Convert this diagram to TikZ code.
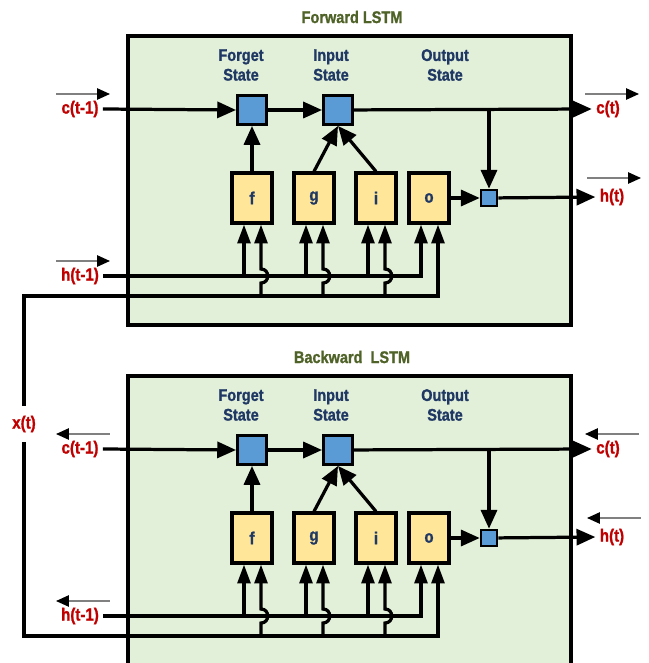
\documentclass[tikz,border=0pt]{standalone}
\usepackage{fontspec}
\setmainfont{Liberation Sans}[FakeStretch=0.86, BoldFeatures={FakeBold=1.2}]
\usepackage{tikz}
\usetikzlibrary{arrows.meta,positioning,calc}
\definecolor{CellGreen}{HTML}{E2EFD9}
\definecolor{GateGold}{HTML}{FFE699}
\definecolor{StateBlue}{HTML}{5B9BD5}
\definecolor{SignalRed}{HTML}{C00000}
\definecolor{StateNavy}{HTML}{1F3864}
\definecolor{TitleOlive}{HTML}{4F6228}
\tikzset{
    % one unit of the picture is one pixel of the original figure
    cellbox/.style={
        draw=black,
        fill=CellGreen,
        line width=2.3pt
    },
    gatebox/.style={
        rectangle,
        draw=black,
        fill=GateGold,
        line width=2.2pt,
        minimum width=1.0cm,
        minimum height=1.25cm,
        font=\bfseries\fontsize{12.5}{14}\selectfont,
        text=StateNavy
    },
    statebox/.style={
        rectangle,
        draw=black,
        fill=StateBlue,
        line width=2.2pt,
        minimum size=0.72cm
    },
    mulbox/.style={
        rectangle,
        draw=black,
        fill=StateBlue,
        line width=1.8pt,
        minimum size=0.4cm
    },
    sigtext/.style={
        font=\bfseries\fontsize{12.5}{14}\selectfont,
        text=SignalRed,
        inner xsep=3pt
    },
    statetext/.style={
        font=\bfseries\fontsize{12}{14}\selectfont,
        text=StateNavy,
        align=center
    },
    titletext/.style={
        font=\bfseries\fontsize{12}{14}\selectfont,
        text=TitleOlive
    },
    flow/.style={
        line width=2.3pt,
        -{Triangle[length=0.47cm,width=0.4cm]}
    },
    feed/.style={
        line width=2.3pt,
        -{Triangle[length=0.47cm,width=0.32cm]}
    },
    vec/.style={
        draw=gray,
        line width=1.1pt
    },
    vecright/.style={-{Triangle[length=0.32cm,width=0.28cm,color=black]}},
    vecleft/.style={{Triangle[length=0.32cm,width=0.28cm,color=black]}-}
}
\begin{document}
\begin{tikzpicture}[x=0.025cm, y=-0.025cm]
    \useasboundingbox (0,0) rectangle (649,663);
    % input shared by both cells
    \node[sigtext, inner ysep=7pt] (xt) at (24,424) {x(t)};

    \foreach \p/\dy/\bot/\title/\vdir in {fw/0/325/Forward LSTM/vecright, bw/340/330/Backward~~LSTM/vecleft}{
    \begin{scope}[shift={(0,\dy)}]
        \draw[cellbox] (128,36) rectangle (571,\bot);
        \node[titletext] (\p-title) at (352,17) {\title};

        % state labels
        \node[statetext] (\p-fst) at (241,65) {Forget\\State};
        \node[statetext] (\p-ist) at (331,65) {Input\\State};
        \node[statetext] (\p-ost) at (445,65) {Output\\State};

        % cell state and gates
        \node[statebox] (\p-fs) at (252,110) {};
        \node[statebox] (\p-is) at (338,110) {};
        \node[mulbox] (\p-ms) at (489,198) {};
        \node[gatebox] (\p-f) at (252,198) {f};
        \node[gatebox] (\p-g) at (314,198) {g};
        \node[gatebox] (\p-i) at (376,198) {i};
        \node[gatebox] (\p-o) at (429,198) {o};

        % signals in and out
        \node[sigtext] (\p-cin) at (80,109) {c(t-1)};
        \node[sigtext] (\p-hin) at (80,276) {h(t-1)};
        \node[sigtext] (\p-cout) at (608,109) {c(t)};
        \node[sigtext] (\p-hout) at (612,197) {h(t)};
        \draw[vec, \vdir] ($(\p-cin)+(-24,-15)$) -- ++(54,0);
        \draw[vec, \vdir] ($(\p-hin)+(-24,-15)$) -- ++(54,0);
        \draw[vec, \vdir] ($(\p-cout)+(-23,-15)$) -- ++(54,0);
        \draw[vec, \vdir] ($(\p-hout)+(-25,-19)$) -- ++(54,0);

        \coordinate (\p-xrow) at (0,296);
        \foreach \gate in {f,g,i,o}{
            \coordinate (\p-\gate-l) at ($(\p-\gate.south)+(-8,0)$);
            \coordinate (\p-\gate-r) at ($(\p-\gate.south)+(9,0)$);
        }

        % cell state line
        \draw[flow] (\p-cin.east) -- (\p-fs.west);
        \draw[flow] (\p-fs) -- (\p-is);
        \draw[flow] (\p-is) -- (\p-cout.west);
        \draw[flow] (\p-is.east -| \p-ms) -- (\p-ms);

        % gates to states
        \draw[flow] (\p-f) -- (\p-fs);
        \draw[flow] (\p-g.north) -- (\p-is.south);
        \draw[flow] (\p-i.north) -- (\p-is.south);
        \draw[flow] (\p-o) -- (\p-ms);
        \draw[flow] (\p-ms) -- (\p-hout.west);

        % h(t-1) and x(t) into the gates
        \draw[feed] (\p-hin.east) -| (\p-o-l);
        \draw[feed] (xt) |- (\p-o-r |- \p-xrow) -- (\p-o-r);
        \foreach \gate in {f,g,i}{
            \draw[feed] (\p-\gate-l |- \p-hin) -- (\p-\gate-l);
            \draw[feed] (\p-\gate-r |- \p-xrow) -- ++(0,-13)
                .. controls +(9,0) and +(9,0) .. ++(0,-14) -- (\p-\gate-r);
        }
    \end{scope}
    }
\end{tikzpicture}
\end{document}
